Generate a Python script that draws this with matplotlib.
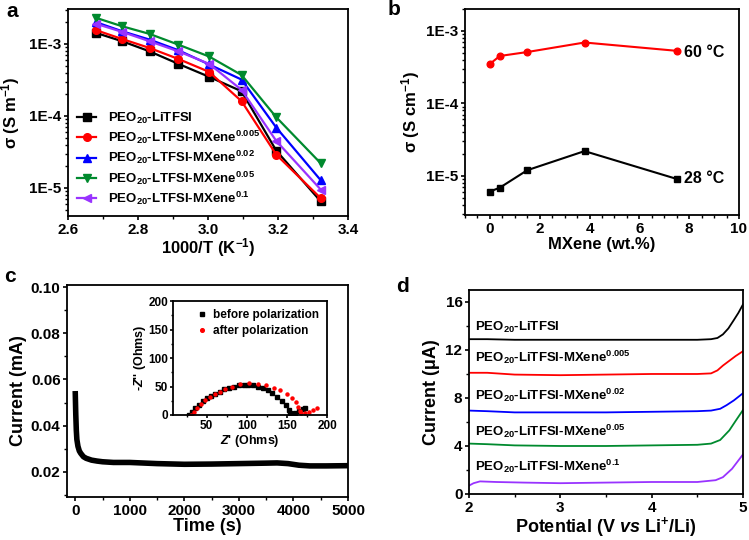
import math
import matplotlib
matplotlib.use("Agg")
import matplotlib.pyplot as plt
from matplotlib.ticker import FixedLocator, FuncFormatter, MultipleLocator, LogLocator, NullFormatter

plt.rcParams['font.family'] = ['Liberation Sans', 'DejaVu Sans']
plt.rcParams['font.weight'] = 'bold'
plt.rcParams['axes.labelweight'] = 'bold'
plt.rcParams['mathtext.fontset'] = 'custom'
plt.rcParams['mathtext.rm'] = 'Liberation Sans:bold'
plt.rcParams['mathtext.it'] = 'Liberation Sans:italic:bold'
plt.rcParams['mathtext.bf'] = 'Liberation Sans:bold'
plt.rcParams['mathtext.default'] = 'rm'
plt.rcParams['axes.linewidth'] = 1.3
plt.rcParams['xtick.major.width'] = 1.2
plt.rcParams['ytick.major.width'] = 1.2
plt.rcParams['xtick.minor.width'] = 1.0
plt.rcParams['ytick.minor.width'] = 1.0
plt.rcParams['xtick.major.size'] = 3.2
plt.rcParams['ytick.major.size'] = 3.2
plt.rcParams['xtick.minor.size'] = 2
plt.rcParams['ytick.minor.size'] = 2
plt.rcParams['xtick.major.pad'] = 1.5
plt.rcParams['ytick.major.pad'] = 1.5

# ---- panel a: conductivity vs 1000/T
inv_t = [2.681, 2.755, 2.833, 2.915, 3.003, 3.096, 3.195, 3.322]
sigma_a = {
    'PEO$_{20}$-LiTFSI': [1.42e-3, 1.09e-3, 7.9e-4, 5.3e-4, 3.5e-4, 2.2e-4, 3.3e-5, 6.5e-6],
    'PEO$_{20}$-LTFSI-MXene$^{0.005}$': [1.55e-3, 1.17e-3, 8.8e-4, 6.2e-4, 4.1e-4, 1.6e-4, 2.9e-5, 7.2e-6],
    'PEO$_{20}$-LTFSI-MXene$^{0.02}$': [2.0e-3, 1.5e-3, 1.15e-3, 8.2e-4, 5.2e-4, 3.2e-4, 6.9e-5, 1.28e-5],
    'PEO$_{20}$-LTFSI-MXene$^{0.05}$': [2.3e-3, 1.76e-3, 1.38e-3, 9.8e-4, 6.7e-4, 3.7e-4, 9.6e-5, 2.2e-5],
    'PEO$_{20}$-LTFSI-MXene$^{0.1}$': [1.9e-3, 1.47e-3, 1.09e-3, 7.9e-4, 5.3e-4, 2.3e-4, 4.5e-5, 9.5e-6],
}
colors_a = ['#000000', '#ff0000', '#0000ff', '#008a2e', '#9933ff']
markers_a = ['s', 'o', '^', 'v', '<']

# ---- panel b: conductivity vs MXene content
mxene_wt = [0, 0.4, 1.5, 3.8, 7.5]
sigma_60 = [3.5e-4, 4.5e-4, 5.1e-4, 6.9e-4, 5.3e-4]
sigma_28 = [6.1e-6, 6.9e-6, 1.2e-5, 2.2e-5, 9.1e-6]

# ---- panel c: chronoamperometry + impedance inset
time_s = [0, 5, 10, 20, 30, 50, 75, 100, 150, 200, 300, 400, 500, 700, 1000,
          1500, 2000, 2500, 3000, 3500, 3700, 3900, 4100, 4300, 4600, 5000]
current_ma = [0.055, 0.050, 0.045, 0.038, 0.034, 0.031, 0.029, 0.028, 0.0265, 0.0258,
              0.025, 0.0246, 0.0243, 0.024, 0.024, 0.0235, 0.0232, 0.0233, 0.0235,
              0.0237, 0.0238, 0.0235, 0.0228, 0.0225, 0.0225, 0.0226]
z_re_before = [28, 32, 36, 40, 45, 50, 55, 60, 66, 72, 78, 84, 90, 96, 102, 108, 114,
               120, 126, 132, 138, 144, 149, 152, 154, 156, 160, 165, 170, 172]
z_im_before = [0, 5, 12, 18, 24, 29, 33, 37, 41, 45, 48, 50, 52, 53, 53, 52, 50,
               47, 43, 38, 32, 25, 17, 9, 3, 2, 4, 7, 10, 12]
z_re_after = [30, 34, 38, 43, 48, 54, 60, 66, 73, 81, 91, 103, 114, 124, 134, 142, 150,
              156, 161, 164, 166, 168, 172, 177, 182, 187]
z_im_after = [0, 6, 13, 20, 26, 31, 36, 41, 46, 50, 54, 57, 55, 52, 48, 43, 37,
              30, 22, 14, 7, 3, 4, 6, 9, 13]

# ---- panel d: LSV curves
potential = {
    'PEO$_{20}$-LiTFSI': [2.0, 2.2, 2.5, 3.0, 3.5, 4.0, 4.5, 4.65, 4.72, 4.78, 4.84, 4.9, 4.95, 5.0],
    'PEO$_{20}$-LiTFSI-MXene$^{0.005}$': [2.0, 2.2, 2.5, 3.0, 3.5, 4.0, 4.5, 4.65, 4.72, 4.78, 4.85, 4.92, 5.0],
    'PEO$_{20}$-LiTFSI-MXene$^{0.02}$': [2.0, 2.2, 2.5, 3.0, 3.5, 4.0, 4.5, 4.65, 4.75, 4.82, 4.9, 5.0],
    'PEO$_{20}$-LiTFSI-MXene$^{0.05}$': [2.0, 2.2, 2.5, 3.0, 3.5, 4.0, 4.5, 4.65, 4.75, 4.85, 4.92, 5.0],
    'PEO$_{20}$-LiTFSI-MXene$^{0.1}$': [2.0, 2.05, 2.12, 2.3, 2.6, 3.0, 3.5, 4.0, 4.5, 4.7, 4.78, 4.88, 4.95, 5.0],
}
current_ua = {
    'PEO$_{20}$-LiTFSI': [12.9, 12.9, 12.85, 12.85, 12.85, 12.85, 12.85, 12.9, 13.0, 13.3, 13.8, 14.5, 15.1, 15.8],
    'PEO$_{20}$-LiTFSI-MXene$^{0.005}$': [10.1, 10.1, 9.95, 9.9, 9.95, 10.0, 10.0, 10.05, 10.3, 10.7, 11.1, 11.5, 11.9],
    'PEO$_{20}$-LiTFSI-MXene$^{0.02}$': [6.95, 6.9, 6.8, 6.8, 6.8, 6.85, 6.9, 6.95, 7.1, 7.4, 7.8, 8.4],
    'PEO$_{20}$-LiTFSI-MXene$^{0.05}$': [4.2, 4.15, 4.05, 4.0, 4.0, 4.05, 4.1, 4.2, 4.5, 5.3, 6.1, 7.0],
    'PEO$_{20}$-LiTFSI-MXene$^{0.1}$': [0.7, 0.9, 1.05, 1.0, 0.95, 0.9, 0.95, 1.0, 1.0, 1.15, 1.4, 2.1, 2.8, 3.3],
}
label_y_d = [13.6, 11.0, 7.8, 4.86, 1.9]
colors_d = ['#000000', '#ff0000', '#0000ff', '#008a2e', '#9933ff']

fig = plt.figure(figsize=(7.49, 5.40), dpi=100)
ax_a = fig.add_axes([0.0908, 0.600, 0.3738, 0.3833])
ax_b = fig.add_axes([0.6208, 0.6019, 0.3658, 0.3815])
ax_c = fig.add_axes([0.0895, 0.0796, 0.3752, 0.3926])
ax_d = fig.add_axes([0.6262, 0.0852, 0.3658, 0.3778])
ax_in = fig.add_axes([0.231, 0.2315, 0.2056, 0.211])

tick_fs = 11


def log_fmt(v, pos):
    return '1E%d' % round(math.log10(v))


for ax in (ax_a, ax_b, ax_c, ax_d):
    ax.tick_params(labelsize=tick_fs, which='both', direction='out')

# panel a
for (name, vals), c, m in zip(sigma_a.items(), colors_a, markers_a):
    ax_a.plot(inv_t, vals, color=c, marker=m, ms=5.5, lw=1.6, label=name)
ax_a.set_yscale('log')
ax_a.set_xlim(2.6, 3.4)
ax_a.set_ylim(4.07e-6, 3.06e-3)
ax_a.xaxis.set_major_locator(MultipleLocator(0.2))
ax_a.xaxis.set_minor_locator(MultipleLocator(0.1))
ax_a.yaxis.set_major_locator(FixedLocator([1e-5, 1e-4, 1e-3]))
ax_a.yaxis.set_major_formatter(FuncFormatter(log_fmt))
ax_a.yaxis.set_minor_locator(LogLocator(base=10, subs=range(2, 10)))
ax_a.yaxis.set_minor_formatter(NullFormatter())
ax_a.set_xlabel('1000/T (K$^{-1}$)', fontsize=12, labelpad=0)
ax_a.set_ylabel('σ (S m$^{-1}$)', fontsize=12, labelpad=5)
ax_a.legend(loc='lower left', bbox_to_anchor=(0.0, 0.0), frameon=False, fontsize=9.5,
            handlelength=1.45, labelspacing=0.22, handletextpad=0.85, borderaxespad=0.3)

# panel b
ax_b.plot(mxene_wt, sigma_60, color='#ff0000', marker='o', ms=4.8, lw=1.5)
ax_b.plot(mxene_wt, sigma_28, color='#000000', marker='s', ms=4.5, lw=1.5)
ax_b.set_yscale('log')
ax_b.set_xlim(-1, 10)
ax_b.set_ylim(2.9e-6, 2.0e-3)
ax_b.xaxis.set_major_locator(MultipleLocator(2))
ax_b.xaxis.set_minor_locator(MultipleLocator(0.5))
ax_b.yaxis.set_major_locator(FixedLocator([1e-5, 1e-4, 1e-3]))
ax_b.yaxis.set_major_formatter(FuncFormatter(log_fmt))
ax_b.yaxis.set_minor_locator(LogLocator(base=10, subs=range(2, 10)))
ax_b.yaxis.set_minor_formatter(NullFormatter())
ax_b.set_xlabel('MXene (wt.%)', fontsize=12, labelpad=1)
ax_b.set_ylabel('σ (S cm$^{-1}$)', fontsize=12, labelpad=3)
ax_b.text(7.8, 5.0e-4, '60 °C', fontsize=11.5, fontweight='bold', ha='left', va='center')
ax_b.text(7.8, 9.1e-6, '28 °C', fontsize=11.5, fontweight='bold', ha='left', va='center')

# panel c
ax_c.plot(time_s, current_ma, color='black', lw=4, solid_capstyle='butt')
ax_c.set_xlim(-150, 5000)
ax_c.set_ylim(0.009, 0.101)
ax_c.xaxis.set_major_locator(MultipleLocator(1000))
ax_c.xaxis.set_minor_locator(MultipleLocator(500))
ax_c.yaxis.set_major_locator(MultipleLocator(0.02))
ax_c.yaxis.set_minor_locator(MultipleLocator(0.01))
ax_c.yaxis.set_major_formatter(FuncFormatter(lambda v, p: '%.2f' % v))
ax_c.set_xlabel('Time (s)', fontsize=13, labelpad=0)
ax_c.set_ylabel('Current (mA)', fontsize=13, labelpad=3)

# inset
ax_in.plot(z_re_before, z_im_before, ls='none', marker='s', ms=2.2, color='black',
           label='before polarization')
ax_in.plot(z_re_after, z_im_after, ls='none', marker='o', ms=2.2, color='#ff0000',
           label='after polarization')
ax_in.set_xlim(8, 200)
ax_in.set_ylim(0, 200)
ax_in.xaxis.set_major_locator(MultipleLocator(50))
ax_in.xaxis.set_minor_locator(MultipleLocator(25))
ax_in.yaxis.set_major_locator(MultipleLocator(50))
ax_in.yaxis.set_minor_locator(MultipleLocator(25))
ax_in.tick_params(labelsize=8.5, which='both', direction='out', pad=1)
ax_in.tick_params(which='major', length=2.5)
ax_in.tick_params(which='minor', length=1.5)
ax_in.set_xlabel("$\\mathit{Z}$' (Ohms)", fontsize=9, labelpad=1)
ax_in.set_ylabel("-$\\mathit{Z}$'' (Ohms)", fontsize=9, labelpad=0)
ax_in.legend(loc='upper right', frameon=False, fontsize=8.5, handlelength=0.8,
             handletextpad=0.5, labelspacing=0.3, borderaxespad=0.3, markerscale=1.2)

# panel d
for (name, vs), c, ly in zip(potential.items(), colors_d, label_y_d):
    ax_d.plot(vs, current_ua[name], color=c, lw=1.3)
    ax_d.text(2.06, ly, name, fontsize=9.5, fontweight='bold', ha='left', va='baseline')
ax_d.set_xlim(2, 5)
ax_d.set_ylim(0, 17)
ax_d.xaxis.set_major_locator(MultipleLocator(1))
ax_d.xaxis.set_minor_locator(MultipleLocator(0.5))
ax_d.yaxis.set_major_locator(MultipleLocator(4))
ax_d.yaxis.set_minor_locator(MultipleLocator(2))
ax_d.set_xlabel('Potential (V $\\mathit{vs}$ Li$^{+}$/Li)', fontsize=13, labelpad=0)
ax_d.set_ylabel('Current (μA)', fontsize=13, labelpad=4)

# panel letters
fig.text(0.008, 0.978, 'a', fontsize=15, fontweight='bold', va='center')
fig.text(0.517, 0.982, 'b', fontsize=15, fontweight='bold', va='center')
fig.text(0.006, 0.488, 'c', fontsize=15, fontweight='bold', va='center')
fig.text(0.529, 0.470, 'd', fontsize=15, fontweight='bold', va='center')

fig.savefig('out.png', dpi=100)
